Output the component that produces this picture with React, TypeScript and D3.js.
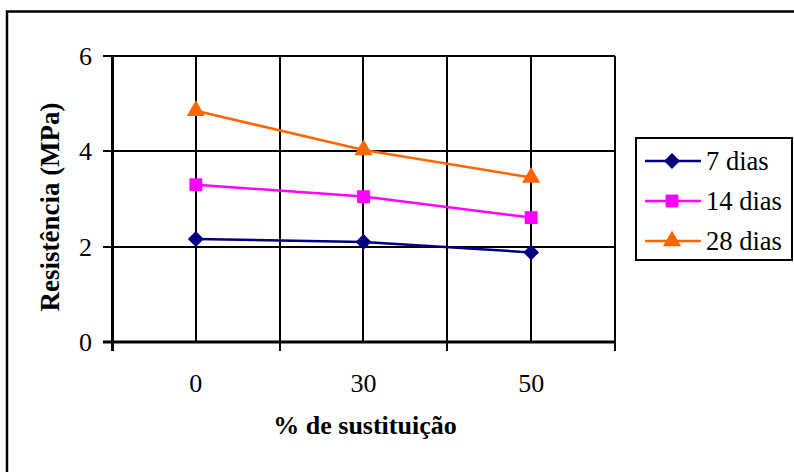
import React from "react";
import * as d3 from "d3";

const categories = ["0", "30", "50"];
const seriesNames = ["7 dias", "14 dias", "28 dias"];
const dias7 = [2.16, 2.1, 1.88];
const dias14 = [3.3, 3.05, 2.61];
const dias28 = [4.85, 4.03, 3.45];
const yTicks = [0, 2, 4, 6];

const W = 794;
const H = 472;
const left = 112;
const right = 615;
const top = 56;
const bottom = 342;
const FONT = "Liberation Serif, Times New Roman, serif";

const colors = ["#000080", "#FF00FF", "#FF6600"];
const shapes = [d3.symbolDiamond2, d3.symbolSquare2, d3.symbolTriangle2];

export default function App() {
  const xBand = d3.scaleBand<string>().domain(categories).range([left, right]).paddingInner(0).paddingOuter(0);
  const y = d3.scaleLinear().domain([0, 6]).range([bottom, top]);
  const cx = (c: string) => (xBand(c) as number) + xBand.bandwidth() / 2;
  const data = [dias7, dias14, dias28];
  const line = d3
    .line<number>()
    .x((_, i) => cx(categories[i]))
    .y((v) => y(v));

  const boundaries = [...categories.map((c) => xBand(c) as number), right];
  const centers = categories.map(cx);
  const crisp = (v: number) => Math.round(v);

  const symPath = (i: number) => {
    const sizes = [160, 210, 240];
    return d3.symbol().type(shapes[i]).size(sizes[i])() as string;
  };

  const legX = 636;
  const legY = 138;
  const rows = [161, 201, 241];

  return (
    <svg width={W} height={H} style={{ position: "absolute", left: 0, top: 0, fontFamily: FONT }}>
      <rect x={0} y={0} width={W} height={H} fill="#fff" />
      <rect x={7} y={11.5} width={820} height={500} fill="none" stroke="#000" strokeWidth={2.5} />

      {yTicks.filter((t) => t > 0).map((t) => (
        <line key={"h" + t} x1={left} x2={right} y1={crisp(y(t))} y2={crisp(y(t))} stroke="#000" strokeWidth={2} />
      ))}
      {[...boundaries.slice(1), ...centers].map((xv, i) => (
        <line key={"v" + i} x1={crisp(xv)} x2={crisp(xv)} y1={top} y2={bottom} stroke="#000" strokeWidth={2} />
      ))}

      <line x1={left + 0.5} x2={left + 0.5} y1={top - 1} y2={bottom + 9} stroke="#000" strokeWidth={3} />
      <line x1={left - 9} x2={right + 1} y1={bottom} y2={bottom} stroke="#000" strokeWidth={3} />
      {yTicks.map((t) => (
        <g key={"yt" + t}>
          <line x1={left - 9} x2={left} y1={crisp(y(t))} y2={crisp(y(t))} stroke="#000" strokeWidth={2} />
          <text x={92} y={y(t) + 9} textAnchor="end" fontSize={26}>
            {t}
          </text>
        </g>
      ))}
      {boundaries.map((b, i) => (
        <line key={"xt" + i} x1={crisp(b)} x2={crisp(b)} y1={bottom} y2={bottom + 9} stroke="#000" strokeWidth={2} />
      ))}
      {categories.map((c) => (
        <text key={"xl" + c} x={cx(c)} y={392} textAnchor="middle" fontSize={26}>
          {c}
        </text>
      ))}

      {data.map((s, i) => (
        <g key={"s" + i}>
          <path d={line(s) as string} fill="none" stroke={colors[i]} strokeWidth={2.5} />
          {s.map((v, j) => (
            <path
              key={j}
              d={symPath(i)}
              transform={`translate(${cx(categories[j])},${y(v)})`}
              fill={colors[i]}
            />
          ))}
        </g>
      ))}

      <text x={365} y={434} textAnchor="middle" fontSize={26} fontWeight="bold">
        % de sustituição
      </text>
      <text
        transform={`translate(59,${(top + bottom) / 2 + 8}) rotate(-90)`}
        textAnchor="middle"
        fontSize={27}
        fontWeight="bold"
      >
        Resistência (MPa)
      </text>

      <rect x={legX} y={legY} width={156} height={122} fill="#fff" stroke="#000" strokeWidth={2} />
      {seriesNames.map((n, i) => (
        <g key={"l" + i}>
          <line x1={645} x2={701} y1={rows[i]} y2={rows[i]} stroke={colors[i]} strokeWidth={2.5} />
          <path d={symPath(i)} transform={`translate(672,${rows[i]})`} fill={colors[i]} />
          <text x={706} y={rows[i] + 9} fontSize={26.5}>
            {n}
          </text>
        </g>
      ))}
    </svg>
  );
}
